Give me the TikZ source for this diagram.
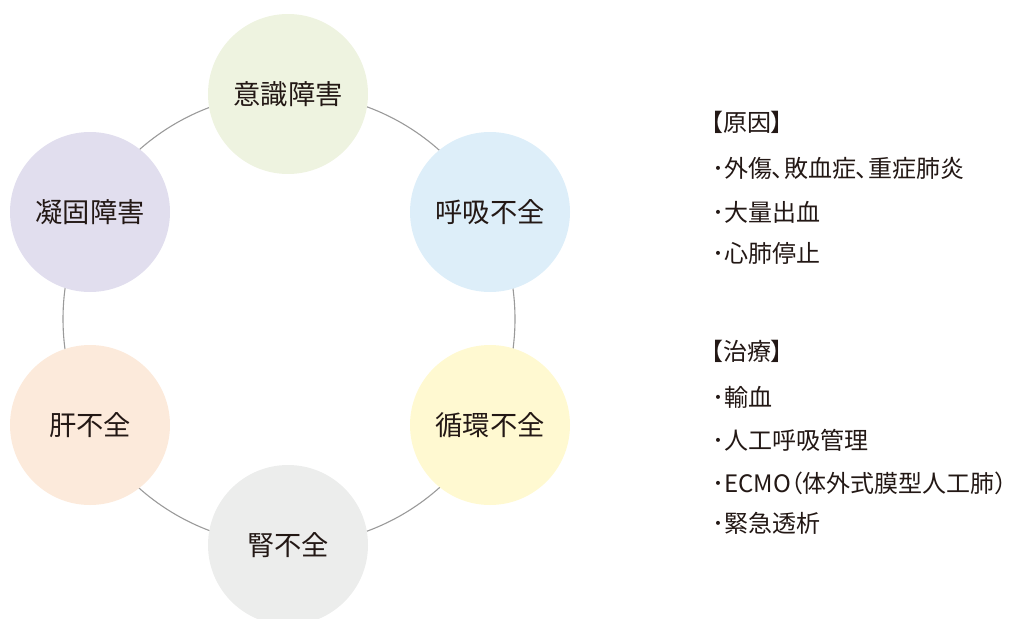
\documentclass[tikz,border=0pt]{standalone}
\usepackage{fontspec}
\setmainfont{Noto Sans CJK JP}[RawFeature=+palt]
\definecolor{txt}{HTML}{231815}
\definecolor{ring}{HTML}{9A9A9A}
\definecolor{cA}{HTML}{EEF3E0}
\definecolor{cB}{HTML}{DDEEF9}
\definecolor{cC}{HTML}{FFF9D1}
\definecolor{cD}{HTML}{ECEDEC}
\definecolor{cE}{HTML}{FCEADB}
\definecolor{cF}{HTML}{E1DEEE}
\tikzset{
  bub/.style={circle, minimum size=160pt, inner sep=0pt, text=txt, font=\fontsize{27.3}{27}\selectfont},
  item/.style={anchor=west, inner sep=0pt, text=txt, font=\fontsize{24}{24}\selectfont},
}
\begin{document}
\begin{tikzpicture}[x=1pt,y=-1pt]
\useasboundingbox (0,0) rectangle (1016,618);
\coordinate (rc) at (289,319);
\draw[ring, line width=1.1pt] (rc) circle[radius=226pt];
\node[bub, fill=cA] (a) at (288,94) {意識障害};
\node[bub, fill=cB] (b) at (490,212) {呼吸不全};
\node[bub, fill=cC] (c) at (490,425) {循環不全};
\node[bub, fill=cD] (d) at (288,545) {腎不全};
\node[bub, fill=cE] (e) at (90,425) {肝不全};
\node[bub, fill=cF] (f) at (90,212) {凝固障害};
\node[item] (h1) at (711,122) {【原因】};
\node[item] (i1) at (712,168) {･外傷、敗血症、重症肺炎};
\node[item] (i2) at (712,212) {･大量出血};
\node[item] (i3) at (712,253) {･心肺停止};
\node[item] (h2) at (711,351) {【治療】};
\node[item] (j1) at (712,397) {･輸血};
\node[item] (j2) at (712,440) {･人工呼吸管理};
\node[item] (j3) at (712,483) {･ECMO（体外式膜型人工肺）};
\node[item] (j4) at (712,523) {･緊急透析};
\end{tikzpicture}
\end{document}
